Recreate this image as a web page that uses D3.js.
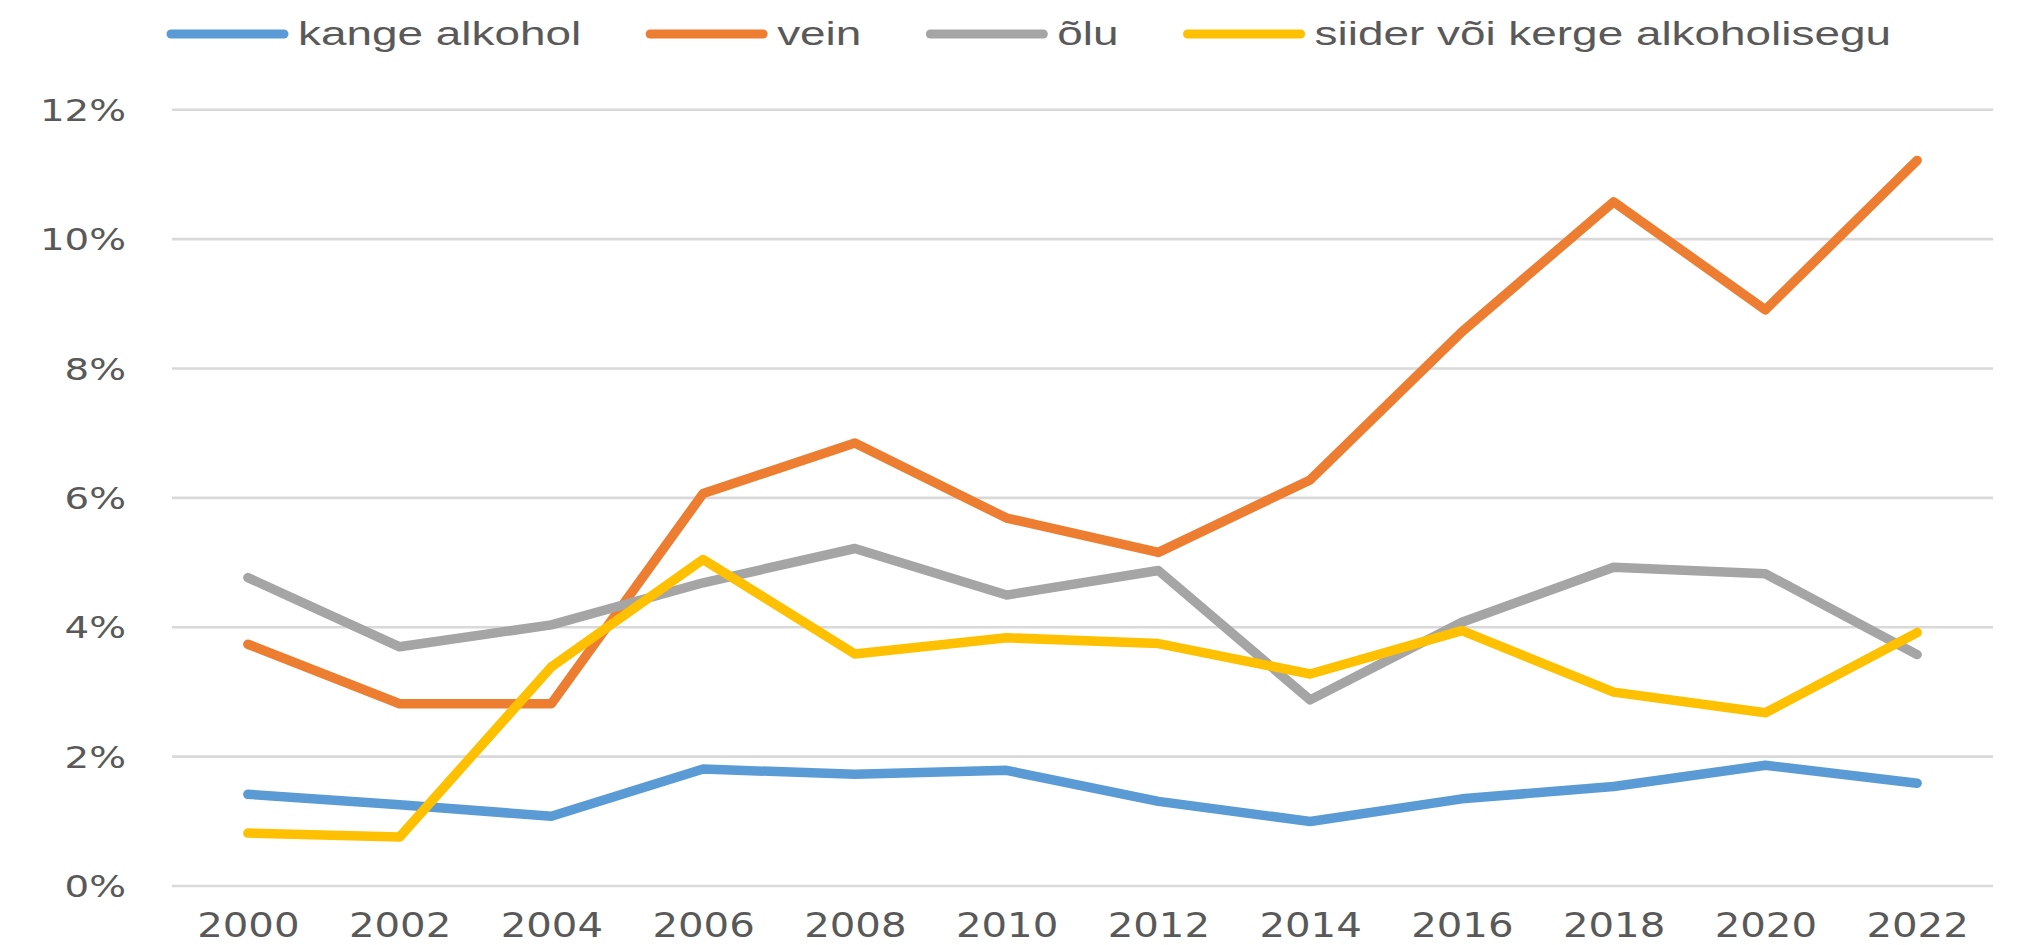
<!DOCTYPE html>
<html>
<head>
<meta charset="utf-8">
<script src="https://cdn.jsdelivr.net/npm/d3@7"></script>
<style>
  html, body { margin: 0; padding: 0; background: #ffffff; }
  svg { display: block; }
</style>
</head>
<body>
<svg id="chart" width="2018" height="945"></svg>
<script>
// ---- data ----
const years = ["2000","2002","2004","2006","2008","2010","2012","2014","2016","2018","2020","2022"];
const seriesNames = ["kange alkohol", "vein", "õlu", "siider või kerge alkoholisegu"];
const kangeAlkohol = [1.41, 1.25, 1.07, 1.80, 1.72, 1.78, 1.30, 0.99, 1.34, 1.53, 1.86, 1.58];
const vein         = [3.73, 2.81, 2.81, 6.06, 6.84, 5.68, 5.15, 6.27, 8.56, 10.57, 8.90, 11.21];
const olu          = [4.76, 3.69, 4.03, 4.68, 5.21, 4.49, 4.87, 2.87, 4.07, 4.92, 4.82, 3.57];
const siider       = [0.81, 0.75, 3.38, 5.04, 3.58, 3.83, 3.74, 3.27, 3.94, 2.99, 2.67, 3.91];
const yTicks = [0, 2, 4, 6, 8, 10, 12];
const colors = ["#5B9BD5", "#ED7D31", "#A5A5A5", "#FFC000"];

const seriesValues = [kangeAlkohol, vein, olu, siider];

// ---- layout ----
const svg = d3.select("#chart");
const plotLeft = 172, plotRight = 1993, plotTop = 109.3, plotBottom = 885.5;
const textColor = "#595959";
const gridColor = "#d9d9d9";

const x = d3.scalePoint().domain(years).range([plotLeft, plotRight]).padding(0.5);
const y = d3.scaleLinear().domain([0, 12]).range([plotBottom, plotTop]);

// gridlines + y labels via axis
const yAxis = d3.axisLeft(y)
  .tickValues(yTicks)
  .tickSize(-(plotRight - plotLeft))
  .tickFormat(d => d + "%");

const gy = svg.append("g")
  .attr("transform", `translate(${plotLeft},0)`)
  .call(yAxis);
gy.select(".domain").remove();
gy.selectAll(".tick line").attr("stroke", gridColor).attr("stroke-width", 2.6);
const ySx = 1.25;
gy.selectAll(".tick text")
  .attr("x", null).attr("dy", null)
  .attr("transform", `translate(-46,11) scale(${ySx},1)`)
  .attr("text-anchor", "end")
  .attr("fill", textColor)
  .style("font-family", "'DejaVu Sans', sans-serif")
  .style("font-size", "31px");

// x axis labels
const xAxis = d3.axisBottom(x).tickSize(0);
const gx = svg.append("g")
  .attr("transform", `translate(0,${plotBottom})`)
  .call(xAxis);
gx.select(".domain").remove();
const xSx = 1.22;
gx.selectAll(".tick text")
  .attr("y", null).attr("dy", null)
  .attr("transform", `translate(0,51) scale(${xSx},1)`)
  .attr("text-anchor", "middle")
  .attr("fill", textColor)
  .style("font-family", "'DejaVu Sans', sans-serif")
  .style("font-size", "33px");

// lines
const line = d3.line()
  .x((d, i) => x(years[i]))
  .y(d => y(d));

svg.append("g").selectAll("path")
  .data(seriesValues)
  .join("path")
  .attr("d", d => line(d))
  .attr("fill", "none")
  .attr("stroke", (d, i) => colors[i])
  .attr("stroke-width", 9.5)
  .attr("stroke-linejoin", "round")
  .attr("stroke-linecap", "round");

// legend
const legSx = 1.35;
const legend = svg.append("g");
let lx = 167;
const legY = 34;
seriesNames.forEach((name, i) => {
  legend.append("line")
    .attr("x1", lx + 4).attr("x2", lx + 117)
    .attr("y1", legY).attr("y2", legY)
    .attr("stroke", colors[i])
    .attr("stroke-width", 9)
    .attr("stroke-linecap", "round");
  const t = legend.append("text")
    .attr("transform", `translate(${lx + 131},45) scale(${legSx},1)`)
    .attr("fill", textColor)
    .style("font-family", "'Liberation Sans', Arial, sans-serif")
    .style("font-size", "34px")
    .text(name);
  const w = t.node().getComputedTextLength() * legSx;
  lx = lx + 131 + w + 65;
});
</script>
</body>
</html>
